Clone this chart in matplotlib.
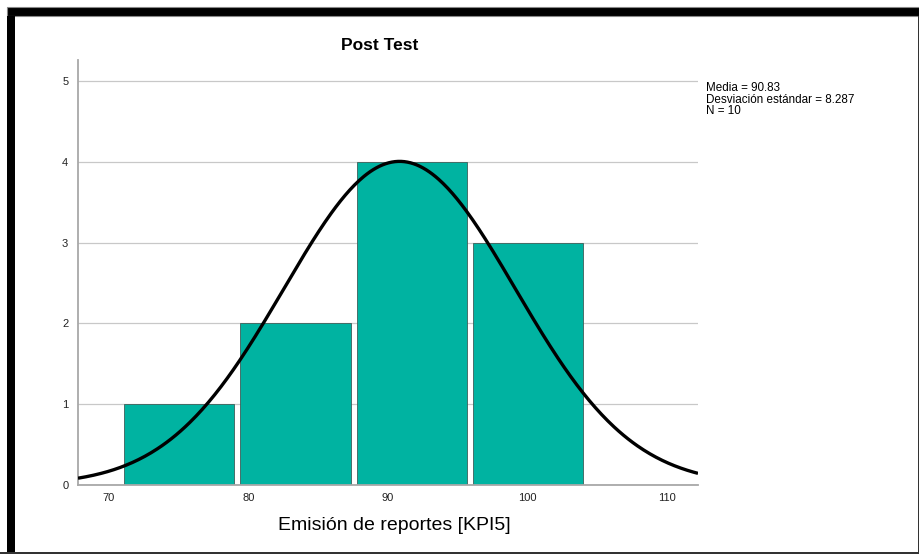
import numpy as np
import matplotlib.pyplot as plt
from matplotlib.patches import Rectangle

# histogram data
bin_edges = [70.88, 79.2, 87.54, 95.88, 104.2]
counts = [1, 2, 4, 3]
mean = 90.83
std = 8.287
n = 10
x_ticks = [70, 80, 90, 100, 110]
y_ticks = [0, 1, 2, 3, 4, 5]

W, H = 920, 554
fig = plt.figure(figsize=(W / 100, H / 100), dpi=100)
plt.rcParams['font.family'] = ['Liberation Sans', 'DejaVu Sans']

def px(x0, y0, x1, y1):
    # pixel box -> figure fraction
    return [x0 / W, 1 - y1 / H, (x1 - x0) / W, (y1 - y0) / H]

ax = fig.add_axes(px(78, 60, 698, 485))

bar_color = "#00b3a1"
gap = 0.44
for left, right, c in zip(bin_edges[:-1], bin_edges[1:], counts):
    ax.bar(left + gap / 2, c, width=(right - left) - gap, align="edge",
           color=bar_color, edgecolor="#3d5f5a", linewidth=0.6, zorder=2)

xs = np.linspace(67.8, 112.2, 400)
bw = bin_edges[1] - bin_edges[0]
pdf = n * bw / (std * np.sqrt(2 * np.pi)) * np.exp(-0.5 * ((xs - mean) / std) ** 2)
ax.plot(xs, pdf, color="black", linewidth=2.4, zorder=3, solid_capstyle="butt")

ax.set_xlim(67.8, 112.2)
ax.set_ylim(0, 5.26)
ax.set_xticks(x_ticks)
ax.set_yticks(y_ticks)
ax.tick_params(length=0, labelsize=8, colors="#222222", pad=6)
ax.tick_params(axis="y", pad=7)
ax.yaxis.grid(True, color="#c8c8c8", linewidth=0.9, zorder=0)
ax.set_axisbelow(True)
for s in ["top", "right"]:
    ax.spines[s].set_visible(False)
for s in ["left", "bottom"]:
    ax.spines[s].set_color("#a8a8a8")
    ax.spines[s].set_linewidth(1.3)

fig.text(380 / W, 1 - 45 / H, "Post Test", ha="center", va="center",
         fontsize=12.5, fontweight="bold")
fig.text(394 / W, 1 - 525 / H, "Emisión de reportes [KPI5]", ha="center",
         va="center", fontsize=14)
fig.text(706 / W, 1 - 82 / H,
         "Media = %.2f\nDesviación estándar = %.3f\nN = %d" % (mean, std, n),
         ha="left", va="top", fontsize=8.4, linespacing=0.97)

# black frame bands around the picture
fig.patches.append(Rectangle((7 / W, 1 - 16 / H), 1, 9 / H, transform=fig.transFigure,
                             facecolor="black", edgecolor="#888888", linewidth=0.8))
fig.patches.append(Rectangle((7 / W, 0), 8 / W, 1 - 16 / H, transform=fig.transFigure,
                             facecolor="black", edgecolor="none"))
fig.patches.append(Rectangle((0, 0), 1, 2.5 / H, transform=fig.transFigure,
                             facecolor="#333333", edgecolor="none"))
fig.patches.append(Rectangle((1 - 1.5 / W, 0), 1.5 / W, 1 - 16 / H, transform=fig.transFigure,
                             facecolor="#333333", edgecolor="none"))

fig.savefig("out.png", dpi=100)
